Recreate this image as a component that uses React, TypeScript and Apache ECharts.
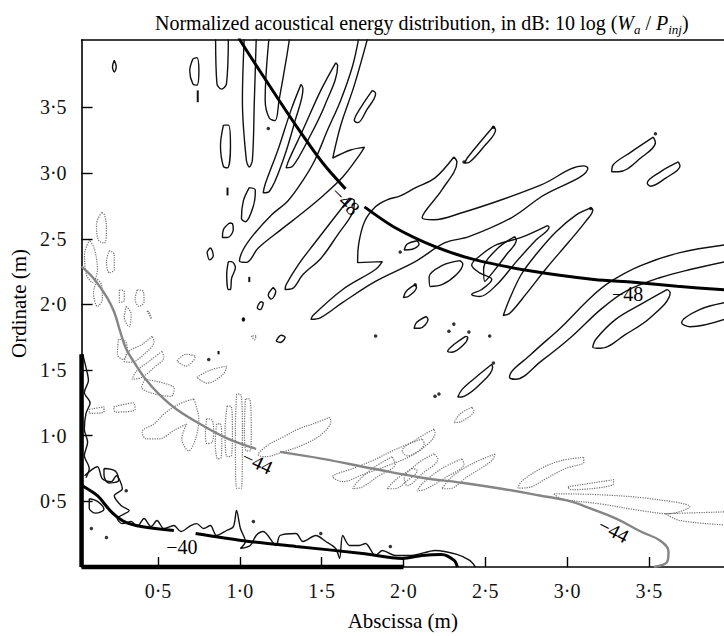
import React, { useEffect, useRef } from "react";
import * as echarts from "echarts";

const FONT = '"Liberation Serif", "Times New Roman", Times, serif';

// axis ranges (m)
const X_MIN = 0.033;
const X_MAX = 3.959;
const Y_MIN = 0;
const Y_MAX = 4.014;
const tickValues = [0.5, 1, 1.5, 2, 2.5, 3, 3.5];

// main labelled contours
const minus48Upper = [[0.99, 4.05], [1.003, 4.01], [1.16, 3.707], [1.35, 3.35], [1.507, 3.077], [1.646, 2.88]];
const minus48Lower = [[1.762, 2.743], [1.95, 2.584], [2.193, 2.44], [2.435, 2.341], [2.8, 2.25], [3.164, 2.19], [3.407, 2.168], [3.673, 2.138], [3.97, 2.11]];
const minus44Left = [[0.033, 2.29], [0.112, 2.19], [0.19, 2.05], [0.233, 1.94], [0.27, 1.79], [0.306, 1.66], [0.354, 1.56], [0.415, 1.446], [0.506, 1.317], [0.615, 1.2], [0.779, 1.074], [0.93, 0.976], [1.1, 0.9]];
const minus44Right = [[1.246, 0.877], [1.507, 0.824], [1.81, 0.75], [2.114, 0.68], [2.357, 0.642], [2.6, 0.596], [2.84, 0.543], [3.005, 0.505], [3.145, 0.445], [3.3, 0.369], [3.45, 0.27], [3.57, 0.2], [3.62, 0.118], [3.613, 0.042], [3.53, 0.0]];
const minus40Left = [[0.033, 0.62], [0.051, 0.61], [0.13, 0.543], [0.215, 0.42], [0.294, 0.346], [0.397, 0.308], [0.597, 0.278]];
const minus40Right = [[0.73, 0.255], [1.022, 0.2], [1.343, 0.157], [1.75, 0.103], [1.993, 0.065], [2.114, 0.088], [2.235, 0.096], [2.31, 0.05], [2.33, 0.0]];
const minus40AxisLeft = [[X_MIN, 1.62], [X_MIN, 0]];
const minus40AxisBottom = [[X_MIN, 0], [2.0, 0]];

// thin -40 contour wiggling around the -40 curve
const wiggle40 = [[0.051, 0.695], [0.13, 0.764], [0.16, 0.672], [0.215, 0.65], [0.245, 0.695], [0.282, 0.596], [0.233, 0.543], [0.276, 0.467], [0.324, 0.43], [0.251, 0.369], [0.282, 0.33], [0.336, 0.346], [0.373, 0.308], [0.415, 0.369], [0.458, 0.308], [0.494, 0.354], [0.536, 0.293], [0.597, 0.316], [0.64, 0.27], [0.7, 0.316], [0.737, 0.33], [0.779, 0.293], [0.82, 0.316], [0.858, 0.24], [0.919, 0.278], [0.961, 0.308], [0.98, 0.43], [1.004, 0.293], [1.034, 0.194], [1.004, 0.141], [1.064, 0.164], [1.1, 0.24], [1.143, 0.27], [1.222, 0.164], [1.246, 0.24], [1.343, 0.255], [1.386, 0.194], [1.465, 0.24], [1.526, 0.194], [1.586, 0.141], [1.61, 0.065], [1.629, 0.24], [1.671, 0.164], [1.731, 0.164], [1.768, 0.179], [1.829, 0.088], [1.871, 0.126], [1.95, 0.088], [2.05, 0.088], [2.193, 0.126], [2.327, 0.096], [2.405, 0.05], [2.44, 0.0]];
const wiggleAxis = [[0.04, 1.62], [0.06, 1.52], [0.075, 1.42], [0.05, 1.33], [0.085, 1.25], [0.06, 1.17], [0.05, 1.05], [0.07, 0.95], [0.05, 0.85], [0.08, 0.75], [0.06, 0.68]];

// thin black contours
const blackContours = [
  [[0.852, 4.05], [0.86, 3.684], [0.888, 3.64], [0.919, 3.684], [0.93, 4.05]],
  [[0.713, 3.87], [0.694, 3.78], [0.713, 3.68], [0.737, 3.67], [0.75, 3.78], [0.737, 3.88], [0.713, 3.87]],
  [[1.028, 4.05], [1.016, 3.556], [1.04, 3.1], [1.058, 3.047], [1.077, 3.1], [1.089, 3.556], [1.101, 4.05]],
  [[1.18, 4.05], [1.155, 3.556], [1.18, 3.42], [1.216, 3.4], [1.24, 3.556], [1.283, 3.86], [1.307, 4.05]],
  [[0.9, 3.366], [0.882, 3.21], [0.9, 3.05], [0.925, 3.04], [0.943, 3.21], [0.93, 3.366], [0.9, 3.366]],
  [[1.058, 2.89], [1.022, 2.79], [1.01, 2.655], [1.034, 2.63], [1.083, 2.75], [1.095, 2.87], [1.058, 2.89]],
  [[1.374, 3.676], [1.313, 3.48], [1.234, 3.18], [1.155, 2.915], [1.143, 2.85], [1.18, 2.86], [1.265, 3.1], [1.338, 3.4], [1.386, 3.646], [1.374, 3.676]],
  [[1.586, 3.84], [1.495, 3.63], [1.386, 3.33], [1.3, 3.1], [1.283, 3.04], [1.325, 3.055], [1.416, 3.25], [1.52, 3.517], [1.598, 3.82], [1.586, 3.84]],
  [[1.73, 4.05], [1.69, 3.82], [1.617, 3.556], [1.537, 3.33], [1.459, 3.1], [1.386, 2.945], [1.295, 2.79], [1.192, 2.68], [1.083, 2.53], [1.022, 2.42], [0.998, 2.33], [1.04, 2.32], [1.113, 2.43], [1.252, 2.57], [1.386, 2.7], [1.507, 2.826], [1.629, 2.97], [1.731, 3.137], [1.762, 3.198], [1.677, 3.176], [1.568, 3.115], [1.617, 3.365], [1.7, 3.67], [1.786, 4.05]],
  [[1.81, 3.63], [1.74, 3.5], [1.7, 3.4], [1.722, 3.385], [1.775, 3.48], [1.83, 3.607], [1.81, 3.63]],
  [[2.308, 3.123], [2.193, 2.964], [2.072, 2.888], [1.981, 2.827], [1.9, 2.797], [1.829, 2.744], [1.762, 2.63], [1.726, 2.455], [1.72, 2.318], [1.871, 2.326], [1.829, 2.266], [1.629, 2.114], [1.447, 1.916], [1.435, 1.886], [1.495, 1.9], [1.629, 2.015], [1.829, 2.175], [2.072, 2.326], [2.254, 2.47], [2.4, 2.516], [2.66, 2.66], [2.842, 2.82], [3.127, 3.04], [3.103, 3.055], [2.842, 2.91], [2.6, 2.797], [2.357, 2.698], [2.187, 2.645], [2.114, 2.66], [2.235, 2.872], [2.327, 3.085], [2.308, 3.123]],
  [[2.55, 3.355], [2.478, 3.25], [2.39, 3.115], [2.375, 3.077], [2.405, 3.085], [2.49, 3.2], [2.563, 3.33], [2.55, 3.355]],
  [[3.527, 3.274], [3.39, 3.16], [3.28, 3.06], [3.273, 3.01], [3.315, 3.01], [3.45, 3.115], [3.54, 3.235], [3.527, 3.274]],
  [[3.68, 3.085], [3.57, 3.01], [3.49, 2.925], [3.51, 2.9], [3.6, 2.96], [3.69, 3.055], [3.68, 3.085]],
  [[2.345, 2.334], [2.235, 2.296], [2.157, 2.21], [2.163, 2.137], [2.235, 2.15], [2.326, 2.23], [2.363, 2.31], [2.345, 2.334]],
  [[2.88, 2.6], [2.72, 2.51], [2.57, 2.455], [2.478, 2.38], [2.417, 2.3], [2.466, 2.24], [2.54, 2.19], [2.478, 2.114], [2.417, 2.076], [2.466, 2.06], [2.57, 2.15], [2.69, 2.326], [2.81, 2.49], [2.89, 2.59], [2.88, 2.6]],
  [[2.68, 2.516], [2.57, 2.42], [2.49, 2.27], [2.497, 2.175], [2.55, 2.25], [2.63, 2.38], [2.69, 2.49], [2.68, 2.516]],
  [[3.145, 2.735], [3.054, 2.68], [2.93, 2.55], [2.81, 2.38], [2.72, 2.228], [2.648, 2.04], [2.61, 1.916], [2.648, 1.93], [2.75, 2.08], [2.87, 2.27], [3.01, 2.475], [3.115, 2.634], [3.157, 2.72], [3.145, 2.735]],
  [[3.97, 2.455], [3.69, 2.395], [3.45, 2.296], [3.267, 2.175], [3.145, 2.053], [2.963, 1.825], [2.78, 1.62], [2.648, 1.446], [2.685, 1.43], [2.842, 1.568], [3.024, 1.75], [3.206, 1.962], [3.358, 2.1], [3.57, 2.205], [3.752, 2.266], [3.97, 2.326]],
  [[3.613, 2.114], [3.45, 2.0], [3.297, 1.886], [3.176, 1.735], [3.157, 1.674], [3.206, 1.666], [3.358, 1.772], [3.51, 1.9], [3.63, 2.09], [3.613, 2.114]],
  [[3.97, 2.015], [3.81, 1.96], [3.7, 1.86], [3.752, 1.83], [3.97, 1.89]],
  [[2.14, 1.908], [2.08, 1.863], [2.065, 1.818], [2.1, 1.818], [2.15, 1.886], [2.14, 1.908]],
  [[2.38, 1.757], [2.31, 1.696], [2.27, 1.643], [2.296, 1.636], [2.37, 1.696], [2.393, 1.75], [2.38, 1.757]],
  [[2.54, 1.544], [2.45, 1.453], [2.36, 1.355], [2.332, 1.294], [2.37, 1.3], [2.466, 1.39], [2.545, 1.52], [2.54, 1.544]],
  [[0.937, 2.62], [0.9, 2.57], [0.894, 2.51], [0.925, 2.51], [0.96, 2.57], [0.955, 2.615], [0.937, 2.62]],
  [[0.93, 2.326], [0.92, 2.228], [0.93, 2.114], [0.943, 2.114], [0.95, 2.2], [0.973, 2.28], [0.95, 2.326], [0.93, 2.326]],
  [[0.8, 2.4], [0.82, 2.43], [0.838, 2.37], [0.815, 2.34], [0.8, 2.4]],
  [[1.204, 2.128], [1.174, 2.07], [1.192, 2.04], [1.22, 2.1], [1.204, 2.128]],
  [[1.125, 2.02], [1.107, 1.975], [1.125, 1.96], [1.143, 2.01], [1.125, 2.02]],
  [[1.222, 1.72], [1.253, 1.765], [1.277, 1.75], [1.247, 1.71], [1.222, 1.72]],
  [[2.072, 2.15], [2.017, 2.1], [2.0, 2.053], [2.03, 2.06], [2.08, 2.13], [2.072, 2.15]],
  [[2.084, 2.485], [2.023, 2.46], [2.005, 2.415], [2.054, 2.42], [2.096, 2.46], [2.084, 2.485]],
  [[0.233, 3.86], [0.222, 3.81], [0.233, 3.77], [0.245, 3.81], [0.233, 3.86]],
  [[1.671, 2.81], [1.568, 2.645], [1.459, 2.47], [1.356, 2.3], [1.283, 2.15], [1.277, 2.114], [1.32, 2.12], [1.386, 2.228], [1.495, 2.35], [1.598, 2.53], [1.69, 2.7], [1.7, 2.79], [1.671, 2.81]],
  [[0.08, 0.52], [0.13, 0.5], [0.17, 0.44], [0.12, 0.41], [0.08, 0.45], [0.08, 0.52]],
  [[0.17, 0.75], [0.24, 0.73], [0.26, 0.66], [0.2, 0.64], [0.17, 0.7], [0.17, 0.75]],
];

const blackDashes = [
  [[0.743, 3.63], [0.743, 3.54]],
  [[0.925, 2.89], [0.925, 2.83]],
  [[1.058, 2.21], [1.058, 2.17]],
  [[1.022, 1.9], [1.022, 1.87]],
  [[0.87, 1.645], [0.87, 1.62]],
];

const blackDots = [
  [1.174, 3.34], [2.37, 3.085], [2.55, 3.35], [3.54, 3.3], [3.145, 2.73], [2.072, 2.15], [2.308, 1.85],
  [2.278, 1.795], [2.4, 1.79], [2.527, 1.76], [2.55, 1.553], [2.193, 1.3], [2.217, 1.317], [0.306, 0.58],
  [0.185, 0.225], [0.093, 0.293], [1.083, 0.346], [1.495, 0.255], [1.92, 0.156], [1.98, 2.4], [1.83, 1.76],
  [0.81, 1.58], [1.022, 1.886],
];

// grey dotted contours
const greyContours = [
  [[0.155, 2.7], [0.124, 2.61], [0.136, 2.49], [0.173, 2.467], [0.185, 2.58], [0.173, 2.683], [0.155, 2.7]],
  [[0.082, 2.49], [0.051, 2.38], [0.063, 2.228], [0.1, 2.167], [0.13, 2.265], [0.112, 2.42], [0.082, 2.49]],
  [[0.203, 2.41], [0.185, 2.325], [0.203, 2.24], [0.233, 2.265], [0.233, 2.38], [0.203, 2.41]],
  [[0.13, 2.19], [0.106, 2.09], [0.13, 1.985], [0.16, 2.04], [0.155, 2.15], [0.13, 2.19]],
  [[0.373, 2.11], [0.36, 2.04], [0.385, 1.985], [0.415, 2.02], [0.41, 2.1], [0.373, 2.11]],
  [[0.264, 2.11], [0.264, 2.015], [0.294, 2.03], [0.294, 2.1], [0.264, 2.11]],
  [[0.306, 1.985], [0.294, 1.9], [0.324, 1.83], [0.336, 1.93], [0.306, 1.985]],
  [[0.433, 1.95], [0.46, 1.89], [0.446, 1.94], [0.433, 1.95]],
  [[0.258, 1.735], [0.252, 1.62], [0.288, 1.58], [0.312, 1.66], [0.3, 1.72], [0.258, 1.735]],
  [[0.464, 1.757], [0.403, 1.696], [0.324, 1.643], [0.294, 1.567], [0.336, 1.56], [0.415, 1.62], [0.476, 1.72], [0.464, 1.757]],
  [[0.524, 1.643], [0.446, 1.567], [0.367, 1.49], [0.342, 1.43], [0.403, 1.446], [0.476, 1.52], [0.536, 1.598], [0.524, 1.643]],
  [[0.616, 1.57], [0.67, 1.62], [0.728, 1.6], [0.67, 1.53], [0.616, 1.57]],
  [[0.737, 1.446], [0.82, 1.5], [0.92, 1.53], [0.9, 1.47], [0.8, 1.4], [0.737, 1.446]],
  [[0.42, 1.43], [0.6, 1.36], [0.58, 1.3], [0.4, 1.37], [0.42, 1.43]],
  [[0.718, 1.28], [0.627, 1.24], [0.536, 1.165], [0.476, 1.09], [0.403, 1.03], [0.427, 0.976], [0.506, 0.976], [0.597, 1.04], [0.676, 1.09], [0.646, 0.976], [0.688, 0.885], [0.73, 0.976], [0.749, 1.128], [0.73, 1.24], [0.718, 1.28]],
  [[0.922, 1.225], [0.91, 1.05], [0.922, 0.84], [0.95, 0.85], [0.955, 1.05], [0.945, 1.225], [0.922, 1.225]],
  [[0.98, 1.316], [0.973, 1.05], [0.98, 0.6], [1.01, 0.6], [1.016, 1.05], [1.004, 1.316], [0.98, 1.316]],
  [[1.034, 1.28], [1.028, 1.05], [1.04, 0.885], [1.064, 0.885], [1.07, 1.05], [1.058, 1.28], [1.034, 1.28]],
  [[0.797, 1.128], [0.79, 1.02], [0.8, 0.94], [0.83, 0.95], [0.84, 1.02], [0.83, 1.12], [0.797, 1.128]],
  [[0.858, 1.09], [0.85, 0.95], [0.865, 0.824], [0.885, 0.83], [0.89, 0.95], [0.88, 1.09], [0.858, 1.09]],
  [[1.55, 1.14], [1.447, 1.09], [1.356, 1.05], [1.265, 0.99], [1.174, 0.93], [1.113, 0.855], [1.155, 0.84], [1.265, 0.877], [1.386, 0.93], [1.495, 1.006], [1.556, 1.11], [1.55, 1.14]],
  [[2.114, 0.976], [1.96, 0.9], [1.81, 0.81], [1.69, 0.75], [1.568, 0.687], [1.63, 0.65], [1.75, 0.703], [1.9, 0.77], [2.05, 0.85], [2.127, 0.94], [2.114, 0.976]],
  [[1.93, 0.84], [1.81, 0.75], [1.72, 0.65], [1.69, 0.596], [1.75, 0.61], [1.84, 0.687], [1.95, 0.785], [1.93, 0.84]],
  [[2.054, 0.75], [1.96, 0.672], [1.9, 0.596], [1.944, 0.596], [2.023, 0.657], [2.084, 0.735], [2.054, 0.75]],
  [[2.417, 1.217], [2.345, 1.165], [2.31, 1.1], [2.357, 1.11], [2.43, 1.19], [2.417, 1.217]],
  [[2.187, 1.05], [2.084, 0.976], [1.993, 0.885], [2.023, 0.847], [2.114, 0.9], [2.193, 1.02], [2.187, 1.05]],
  [[2.56, 0.86], [2.417, 0.785], [2.296, 0.687], [2.235, 0.596], [2.278, 0.596], [2.39, 0.687], [2.54, 0.81], [2.56, 0.86]],
  [[2.357, 0.824], [2.235, 0.75], [2.114, 0.634], [2.084, 0.58], [2.13, 0.59], [2.265, 0.687], [2.37, 0.785], [2.357, 0.824]],
  [[2.187, 0.862], [2.084, 0.786], [2.005, 0.672], [2.023, 0.62], [2.114, 0.71], [2.21, 0.824], [2.187, 0.862]],
  [[3.1, 0.835], [2.963, 0.81], [2.84, 0.75], [2.72, 0.65], [2.7, 0.6], [2.78, 0.61], [2.87, 0.672], [2.99, 0.75], [3.103, 0.8], [3.1, 0.835]],
  [[3.005, 0.611], [3.285, 0.665], [3.28, 0.627], [3.024, 0.589], [3.005, 0.611]],
  [[2.92, 0.558], [3.206, 0.55], [3.51, 0.52], [3.75, 0.46], [3.62, 0.406], [3.45, 0.43], [3.206, 0.48], [2.963, 0.52], [2.92, 0.558]],
  [[3.6, 0.406], [3.97, 0.42], [3.97, 0.32], [3.69, 0.354], [3.6, 0.406]],
  [[0.23, 1.22], [0.35, 1.25], [0.36, 1.2], [0.24, 1.18], [0.23, 1.22]],
  [[0.08, 1.2], [0.17, 1.22], [0.17, 1.18], [0.08, 1.17], [0.08, 1.2]],
  [[1.07, 1.76], [1.09, 1.73], [1.1, 1.76], [1.07, 1.76]],
];

const contourLabels = [
  { text: "\u221248", x: 1.646, y: 2.79, angle: -45 },
  { text: "\u221248", x: 3.37, y: 2.08, angle: 0 },
  { text: "\u221244", x: 1.107, y: 0.8, angle: -25 },
  { text: "\u221244", x: 3.285, y: 0.278, angle: -27 },
  { text: "\u221240", x: 0.646, y: 0.156, angle: 0 },
];

const fmt = (v: number) => v.toFixed(1).replace(".", "\u00b7");

function line(data: number[][], color: string, width: number, type: any = "solid", smooth: number = 0.35, z = 2, clip = true) {
  return {
    type: "line",
    data,
    symbol: "none",
    showSymbol: false,
    silent: true,
    smooth,
    clip,
    z,
    lineStyle: { color, width, type },
  };
}

export default function App() {
  const ref = useRef<HTMLDivElement>(null);
  useEffect(() => {
    if (!ref.current) return;
    const chart = echarts.init(ref.current, undefined, { renderer: "svg" });
    const series: any[] = [];
    greyContours.forEach((c) => series.push(line(c, "#6f6f6f", 1.2, "dotted", 0.35, 2)));
    blackContours.forEach((c) => series.push(line(c, "#111", 1.4, "solid", 0.35, 3)));
    blackDashes.forEach((c) => series.push(line(c, "#111", 2, "solid", 0, 3)));
    series.push(line(wiggle40, "#111", 1.4, "solid", 0.3, 3));
    series.push(line(wiggleAxis, "#111", 1.4, "solid", 0.3, 3));
    series.push(line(minus44Left, "#858585", 2.4, "solid", 0.4, 4));
    series.push(line(minus44Right, "#858585", 2.4, "solid", 0.4, 4));
    series.push(line(minus48Upper, "#000", 3, "solid", 0.3, 5));
    series.push(line(minus48Lower, "#000", 3, "solid", 0.3, 5));
    series.push(line(minus40Left, "#000", 3, "solid", 0.3, 5));
    series.push(line(minus40Right, "#000", 3, "solid", 0.3, 5));
    series.push(line(minus40AxisLeft, "#000", 4.5, "solid", 0, 6, false));
    series.push(line(minus40AxisBottom, "#000", 4.5, "solid", 0, 6, false));
    series.push({
      type: "scatter",
      data: blackDots,
      symbolSize: 3.5,
      itemStyle: { color: "#000" },
      silent: true,
      z: 3,
    });
    series.push({
      type: "scatter",
      silent: true,
      symbolSize: 2,
      itemStyle: { color: "rgba(0,0,0,0)" },
      z: 7,
      data: contourLabels.map((l) => ({
        value: [l.x, l.y],
        name: l.text,
        label: { rotate: l.angle },
      })),
      label: {
        show: true,
        position: "inside",
        formatter: (p: any) => p.name,
        fontFamily: FONT,
        fontSize: 20,
        color: "#000",
        opacity: 1,
      },
      labelLayout: { hideOverlap: false },
    });

    chart.setOption({
      animation: false,
      title: {
        left: 150,
        top: 5,
        text: "Normalized acoustical energy distribution, in dB: 10 log ({it|W}{sub|a}{n| / }{it|P}{sub|inj}{n|)}",
        textStyle: {
          fontFamily: FONT,
          fontSize: 20,
          fontWeight: "normal",
          color: "#000",
          lineHeight: 26,
          rich: {
            it: { fontFamily: FONT, fontSize: 20, fontStyle: "italic", color: "#000", lineHeight: 26 },
            n: { fontFamily: FONT, fontSize: 20, color: "#000", lineHeight: 26 },
            sub: { fontFamily: FONT, fontSize: 13, fontStyle: "italic", color: "#000", lineHeight: 12, verticalAlign: "bottom" },
          },
        },
      },
      grid: { left: 77, top: 40, right: 0, bottom: 67, containLabel: false },
      xAxis: [
        {
          type: "value",
          min: X_MIN,
          max: X_MAX,
          position: "bottom",
          name: "Abscissa (m)",
          nameLocation: "middle",
          nameGap: 43,
          nameTextStyle: { fontFamily: FONT, fontSize: 21, color: "#000" },
          axisLine: { show: true, lineStyle: { color: "#000", width: 1.6 } },
          axisTick: { show: true, inside: true, length: 10, customValues: tickValues, lineStyle: { color: "#000", width: 1.4 } },
          axisLabel: { customValues: tickValues, formatter: fmt, margin: 14, fontFamily: FONT, fontSize: 20, color: "#111" },
          splitLine: { show: false },
        },
        {
          type: "value",
          min: X_MIN,
          max: X_MAX,
          position: "top",
          axisLine: { show: true, lineStyle: { color: "#000", width: 1.6 } },
          axisTick: { show: false },
          axisLabel: { show: false },
          splitLine: { show: false },
        },
      ],
      yAxis: {
        type: "value",
        min: Y_MIN,
        max: Y_MAX,
        name: "Ordinate (m)",
        nameLocation: "middle",
        nameGap: 52,
        nameTextStyle: { fontFamily: FONT, fontSize: 21, color: "#000" },
        axisLine: { show: true, lineStyle: { color: "#000", width: 1.6 } },
        axisTick: { show: true, inside: true, length: 11, customValues: tickValues, lineStyle: { color: "#000", width: 1.4 } },
        axisLabel: { customValues: tickValues, formatter: fmt, margin: 15, fontFamily: FONT, fontSize: 20, color: "#111" },
        splitLine: { show: false },
      },
      series,
    });
    return () => chart.dispose();
  }, []);
  return <div ref={ref} style={{ position: "fixed", left: 0, top: 0, width: 724, height: 636, background: "#fff" }} />;
}
